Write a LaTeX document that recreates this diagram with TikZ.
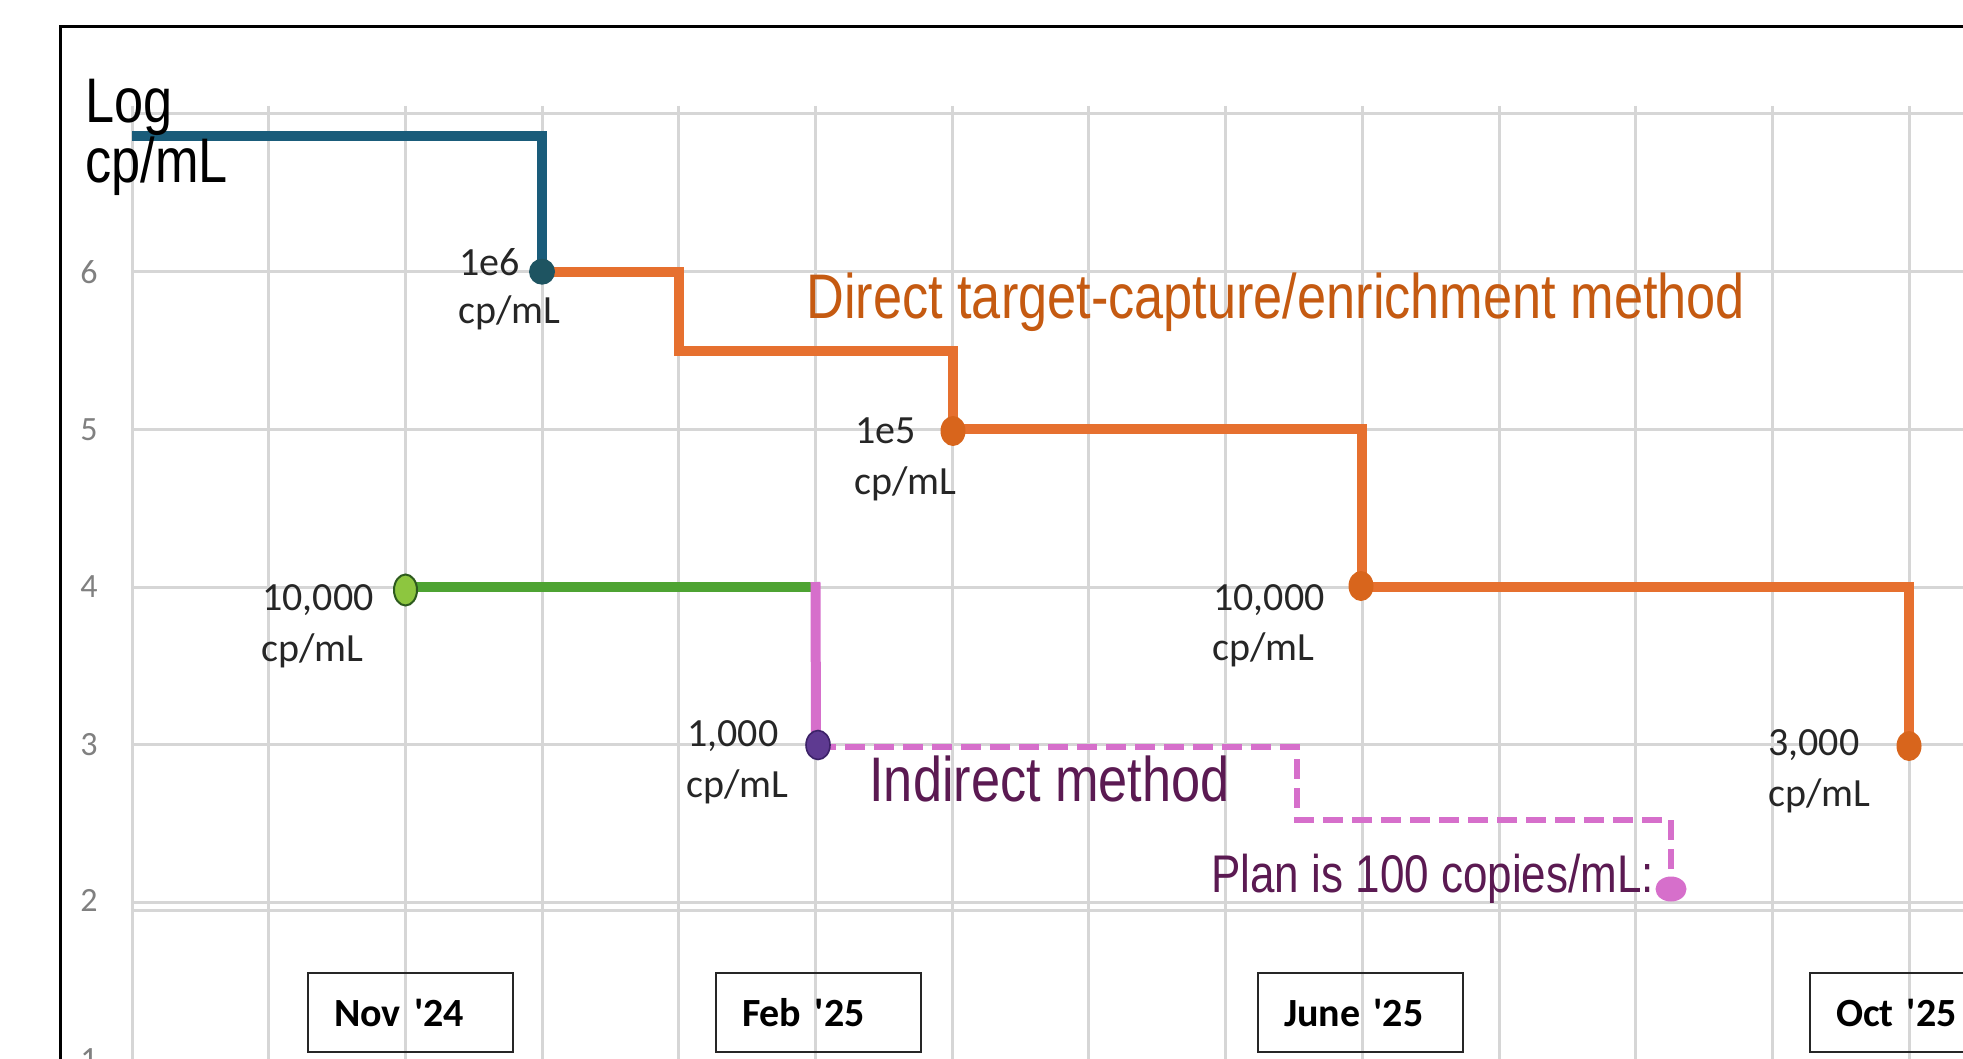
\documentclass[tikz,border=0pt]{standalone}
\usepackage{fontspec}
\usetikzlibrary{shapes.geometric}
\newfontfamily\arialn[FakeStretch=0.83]{Liberation Sans}
\newfontfamily\calib{Carlito}
\definecolor{gridc}{HTML}{D6D6D6}
\definecolor{bluel}{HTML}{1A5C7A}
\definecolor{bluedot}{HTML}{1E5461}
\definecolor{orangel}{HTML}{E6702F}
\definecolor{orangedot}{HTML}{D8651C}
\definecolor{greenl}{HTML}{4EA332}
\definecolor{greenfill}{HTML}{8DC63F}
\definecolor{greenedge}{HTML}{2D5A1E}
\definecolor{pinkl}{HTML}{D66FCB}
\definecolor{purpledot}{HTML}{5E3A91}
\definecolor{purpleedge}{HTML}{3C2268}
\definecolor{dirc}{HTML}{C55A11}
\definecolor{indc}{HTML}{5B1A52}
\definecolor{labc}{HTML}{262626}
\definecolor{axc}{HTML}{808080}
\begin{document}
\begin{tikzpicture}[x=0.5pt,y=-0.5pt,
  gridline/.style={draw=gridc,line width=1.5pt},
  frameline/.style={draw=black,line width=1.5pt},
  blueline/.style={draw=bluel,line width=5pt},
  orangeline/.style={draw=orangel,line width=5pt},
  greenline/.style={draw=greenl,line width=5pt},
  pinkline/.style={draw=pinkl,line width=5pt,line cap=rect},
  pinkdash/.style={draw=pinkl,line width=3pt,dash pattern=on 10pt off 4.5pt},
  bluedotst/.style={circle,fill=bluedot,minimum size=13pt,inner sep=0pt},
  orangedotst/.style={ellipse,fill=orangedot,minimum width=12.5pt,minimum height=15pt,inner sep=0pt},
  greendotst/.style={ellipse,fill=greenfill,draw=greenedge,line width=1pt,minimum width=11.5pt,minimum height=15.5pt,inner sep=0pt},
  purpledotst/.style={ellipse,fill=purpledot,draw=purpleedge,line width=0.8pt,minimum width=12pt,minimum height=14.5pt,inner sep=0pt},
  pinkdotst/.style={ellipse,fill=pinkl,minimum width=15.5pt,minimum height=12.5pt,inner sep=0pt},
  lab/.style={anchor=base west,inner sep=0pt,text=labc,font=\calib\fontsize{20}{24}\selectfont},
  axlab/.style={anchor=center,inner sep=0pt,text=axc,font=\calib\fontsize{17}{20}\selectfont},
  bigtxt/.style={anchor=base west,inner sep=0pt,font=\arialn\fontsize{31.5}{36}\selectfont},
  plantxt/.style={anchor=base west,inner sep=0pt,font=\arialn\fontsize{26.5}{31}\selectfont},
  datebox/.style={anchor=north west,draw=labc,line width=1.2pt,outer sep=0pt,minimum height=39.5pt,
    text width=76.5pt,inner xsep=13pt,inner ysep=0pt,align=left,
    font=\calib\bfseries\fontsize{20}{24}\selectfont}]
\useasboundingbox (0,0) rectangle (1963,1059);
\clip (0,0) rectangle (1963,1059);
\fill[white] (0,0) rectangle (1963,1059);
% grid
\foreach \i in {0,...,13} {
  \draw[gridline] ({132+\i*136.7},106) -- ({132+\i*136.7},1100);
}
\foreach \yy in {114,271.7,429.4,587,744.8,902.5,910} {
  \draw[gridline] (132,\yy) -- (2000,\yy);
}
% frame
\draw[frameline] (60,27) rectangle (2200,1300);
% axis labels
\node[axlab] (y6) at (89,271.7) {6};
\node[axlab] (y5) at (89,429.4) {5};
\node[axlab] (y4) at (89,587) {4};
\node[axlab] (y3) at (89,744.8) {3};
\node[axlab] (y2) at (89,900) {2};
\node[axlab] (y1) at (89,1060) {1};
% coordinates
\coordinate (b0) at (132,136);
\coordinate (b1) at (542,136);
\coordinate (p1e6) at (542,271.7);
\coordinate (o1) at (678.8,271.7);
\coordinate (o2) at (678.8,350.5);
\coordinate (o3) at (953,350.5);
\coordinate (p1e5) at (953,429.4);
\coordinate (o4) at (1362,429.4);
\coordinate (p1e4) at (1362,587);
\coordinate (o5) at (1909,587);
\coordinate (p3e3) at (1909,745);
\coordinate (pg) at (405.5,587);
\coordinate (g1) at (815.5,587);
\coordinate (p1e3) at (816,745);
\coordinate (k1) at (1297,747);
\coordinate (k2) at (1297,820);
\coordinate (k3) at (1671,820);
\coordinate (p100) at (1671,889);
% lines
\draw[blueline] (b0) -- (b1) -- (p1e6);
\draw[orangeline] (p1e6) -- (o1) -- (o2) -- (o3) -- (p1e5) -- (o4) -- (p1e4) -- (o5) -- (p3e3);
\draw[greenline] (pg) -- (g1);
\draw[pinkline] (g1) -- (p1e3);
\draw[pinkdash] (p1e3 |- k1) -- (k1) -- (k2) -- (k3) -- (p100);
% dots
\node[bluedotst] (d1e6) at (p1e6) {};
\node[orangedotst] (d1e5) at (953,431) {};
\node[orangedotst] (d1e4) at (1361,586) {};
\node[orangedotst] (d3e3) at (1909,746) {};
\node[greendotst] (dg) at (405.5,590) {};
\node[purpledotst] (d1e3) at (818,745) {};
\node[pinkdotst] (d100) at (p100) {};
% data labels
\node[lab] (t1e6a) at (459,275) {1e6};
\node[lab] (t1e6b) at (458,323) {cp/mL};
\node[lab] (t1e5a) at (855,443) {1e5};
\node[lab] (t1e5b) at (854,494) {cp/mL};
\node[lab] (tg1) at (262,610) {10,000};
\node[lab] (tg2) at (261,661) {cp/mL};
\node[lab] (t1e3a) at (687,746) {1,000};
\node[lab] (t1e3b) at (686,797) {cp/mL};
\node[lab] (to1) at (1213,610) {10,000};
\node[lab] (to2) at (1212,660) {cp/mL};
\node[lab] (t3a) at (1768,755) {3,000};
\node[lab] (t3b) at (1768,806) {cp/mL};
% titles
\node[bigtxt,text=black] (tlog) at (85,123) {Log};
\node[bigtxt,text=black] (tcp) at (85,183) {cp/mL};
\node[bigtxt,text=dirc] (tdirect) at (806,318) {Direct target-capture/enrichment method};
\node[bigtxt,text=indc] (tind) at (869,801) {Indirect method};
\node[plantxt,text=indc] (tplan) at (1211,892) {Plan is 100 copies/mL:};
% date boxes
\node[datebox] (bnov) at (308,973) {Nov \textquotesingle24};
\node[datebox] (bfeb) at (716,973) {Feb \textquotesingle25};
\node[datebox] (bjun) at (1258,973) {June \textquotesingle25};
\node[datebox] (boct) at (1810,973) {Oct \textquotesingle25};
\end{tikzpicture}
\end{document}
